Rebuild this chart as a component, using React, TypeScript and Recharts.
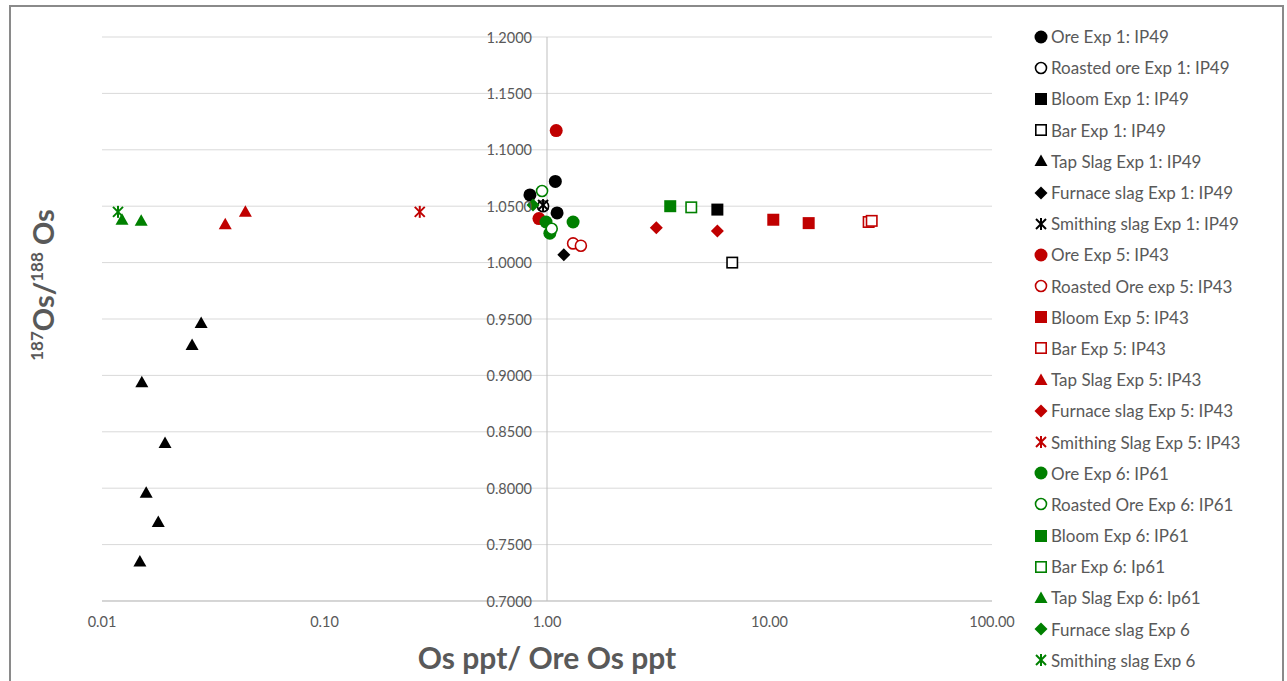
import React from 'react';
import { ScatterChart, Scatter, XAxis, YAxis, CartesianGrid, ReferenceLine, Legend } from 'recharts';

// values: [Os ppt / ore Os ppt, 187Os/188Os]
const oreExp1 = [[1.09, 1.072], [0.838, 1.06], [1.11, 1.044]];
const roastedExp1 = [[0.96, 1.05]];
const bloomExp1 = [[5.83, 1.047]];
const barExp1 = [[6.8, 1.0]];
const tapSlagExp1 = [
  [0.0279, 0.9465], [0.0254, 0.927], [0.0151, 0.894], [0.0192, 0.84],
  [0.0158, 0.796], [0.0179, 0.77], [0.0148, 0.735],
];
const furnaceExp1 = [[1.19, 1.007]];
const smithingExp1 = [[0.96, 1.051]];

const oreExp5 = [[1.1, 1.117], [0.92, 1.039]];
const roastedExp5 = [[1.31, 1.017], [1.42, 1.015]];
const bloomExp5 = [[10.4, 1.038], [15.0, 1.035]];
const barExp5 = [[27.9, 1.036], [28.8, 1.037]];
const tapSlagExp5 = [[0.0358, 1.034], [0.0441, 1.045]];
const furnaceExp5 = [[3.1, 1.031], [5.83, 1.028]];
const smithingExp5 = [[0.268, 1.045]];

const oreExp6 = [[0.99, 1.036], [1.31, 1.036], [1.03, 1.026]];
const roastedExp6 = [[0.95, 1.0635], [1.05, 1.03]];
const bloomExp6 = [[3.58, 1.05]];
const barExp6 = [[4.45, 1.049]];
const tapSlagExp6 = [[0.0123, 1.038], [0.015, 1.037]];
const furnaceExp6 = [[0.865, 1.051]];
const smithingExp6 = [[0.0118, 1.045]];

const X_TICKS = [0.01, 0.1, 1, 10, 100];
const Y_TICKS = [0.7, 0.75, 0.8, 0.85, 0.9, 0.95, 1.0, 1.05, 1.1, 1.15, 1.2];

const BLACK = '#000000';
const RED = '#c00000';
const GREEN = '#008000';
const TEXT = '#595959';
const FONT = 'Lato, "Open Sans", sans-serif';

type Kind = 'circle' | 'ocircle' | 'square' | 'osquare' | 'triangle' | 'diamond' | 'star';

const SERIES: { name: string; data: number[][]; color: string; kind: Kind }[] = [
  { name: 'Ore Exp 1: IP49', data: oreExp1, color: BLACK, kind: 'circle' },
  { name: 'Roasted ore Exp 1: IP49', data: roastedExp1, color: BLACK, kind: 'ocircle' },
  { name: 'Bloom Exp 1: IP49', data: bloomExp1, color: BLACK, kind: 'square' },
  { name: 'Bar Exp 1: IP49', data: barExp1, color: BLACK, kind: 'osquare' },
  { name: 'Tap Slag Exp 1: IP49', data: tapSlagExp1, color: BLACK, kind: 'triangle' },
  { name: 'Furnace slag Exp 1: IP49', data: furnaceExp1, color: BLACK, kind: 'diamond' },
  { name: 'Smithing slag Exp 1: IP49', data: smithingExp1, color: BLACK, kind: 'star' },
  { name: 'Ore Exp 5: IP43', data: oreExp5, color: RED, kind: 'circle' },
  { name: 'Roasted Ore exp 5: IP43', data: roastedExp5, color: RED, kind: 'ocircle' },
  { name: 'Bloom Exp 5: IP43', data: bloomExp5, color: RED, kind: 'square' },
  { name: 'Bar Exp 5: IP43', data: barExp5, color: RED, kind: 'osquare' },
  { name: 'Tap Slag Exp 5: IP43', data: tapSlagExp5, color: RED, kind: 'triangle' },
  { name: 'Furnace slag Exp 5: IP43', data: furnaceExp5, color: RED, kind: 'diamond' },
  { name: 'Smithing Slag Exp 5: IP43', data: smithingExp5, color: RED, kind: 'star' },
  { name: 'Ore Exp 6: IP61', data: oreExp6, color: GREEN, kind: 'circle' },
  { name: 'Roasted Ore Exp 6: IP61', data: roastedExp6, color: GREEN, kind: 'ocircle' },
  { name: 'Bloom Exp 6: IP61', data: bloomExp6, color: GREEN, kind: 'square' },
  { name: 'Bar Exp 6: Ip61', data: barExp6, color: GREEN, kind: 'osquare' },
  { name: 'Tap Slag Exp 6: Ip61', data: tapSlagExp6, color: GREEN, kind: 'triangle' },
  { name: 'Furnace slag Exp 6', data: furnaceExp6, color: GREEN, kind: 'diamond' },
  { name: 'Smithing slag Exp 6', data: smithingExp6, color: GREEN, kind: 'star' },
];

// layout
const W = 1287;
const H = 681;
const PLOT_LEFT = 102;
const PLOT_RIGHT = 992;
const PLOT_TOP = 37;
const PLOT_BOTTOM = 601;
const X_AXIS_H = 30;
const AXIS_X = PLOT_LEFT + (PLOT_RIGHT - PLOT_LEFT) / 2; // x = 1 sits mid-way on 0.01..100 log

const Marker = ({ cx, cy, kind, color }: { cx: number; cy: number; kind: Kind; color: string }) => {
  switch (kind) {
    case 'circle':
      return <circle cx={cx} cy={cy} r={6.5} fill={color} />;
    case 'ocircle':
      return <circle cx={cx} cy={cy} r={5.5} fill="#fff" stroke={color} strokeWidth={1.6} />;
    case 'square':
      return <rect x={cx - 6} y={cy - 6} width={12} height={12} fill={color} />;
    case 'osquare':
      return <rect x={cx - 5.2} y={cy - 5.2} width={10.4} height={10.4} fill="#fff" stroke={color} strokeWidth={1.6} />;
    case 'triangle':
      return <path d={`M${cx},${cy - 6.5} L${cx + 6.5},${cy + 5} L${cx - 6.5},${cy + 5} Z`} fill={color} />;
    case 'diamond':
      return <path d={`M${cx},${cy - 6.5} L${cx + 6.5},${cy} L${cx},${cy + 6.5} L${cx - 6.5},${cy} Z`} fill={color} />;
    case 'star':
      return (
        <g stroke={color} strokeWidth={2}>
          <line x1={cx} y1={cy - 6} x2={cx} y2={cy + 6} />
          <line x1={cx - 5} y1={cy - 5} x2={cx + 5} y2={cy + 5} />
          <line x1={cx - 5} y1={cy + 5} x2={cx + 5} y2={cy - 5} />
        </g>
      );
  }
  return null;
};

const YTick = (props: any) => {
  const { y, payload } = props;
  return (
    <text x={AXIS_X - 15} y={y} textAnchor="end" dominantBaseline="central" fill={TEXT} fontSize={14.5} fontFamily={FONT}>
      {Number(payload.value).toFixed(4)}
    </text>
  );
};

const renderLegend = () => (
  <div style={{ fontFamily: FONT, fontSize: 17, color: TEXT }}>
    {SERIES.map((s) => (
      <div key={s.name} style={{ height: 31.2, display: 'flex', alignItems: 'center', whiteSpace: 'nowrap' }}>
        <svg width={16} height={16}>
          <Marker cx={8} cy={8} kind={s.kind} color={s.color} />
        </svg>
        <span style={{ marginLeft: 2 }}>{s.name}</span>
      </div>
    ))}
  </div>
);

export default function App() {
  return (
    <div style={{ position: 'absolute', left: 0, top: 0, width: W, height: H, background: '#fff', overflow: 'hidden' }}>
      <div
        style={{
          position: 'absolute', left: 9, top: 5, width: 1275, height: 720,
          border: '2px solid #8a8a8a', boxSizing: 'border-box',
        }}
      />
      <div style={{ position: 'absolute', left: 0, top: 0 }}>
        <ScatterChart
          width={W}
          height={H}
          margin={{ top: PLOT_TOP, left: PLOT_LEFT - 1, right: W - PLOT_RIGHT, bottom: H - PLOT_BOTTOM - X_AXIS_H }}
        >
          <CartesianGrid vertical={false} stroke="#d9d9d9" />
          <XAxis
            dataKey="x"
            type="number"
            scale="log"
            domain={[0.01, 100]}
            ticks={X_TICKS}
            allowDataOverflow
            tickFormatter={(v: number) => v.toFixed(2)}
            axisLine={{ stroke: '#bfbfbf' }}
            tickLine={false}
            tickMargin={10}
            height={X_AXIS_H}
            tick={{ fill: TEXT, fontSize: 14.5, fontFamily: FONT }}
          />
          <YAxis
            dataKey="y"
            type="number"
            domain={[0.7, 1.2]}
            ticks={Y_TICKS}
            allowDataOverflow
            axisLine={false}
            tickLine={false}
            width={1}
            tick={<YTick />}
          />
          <ReferenceLine x={1} stroke="#bfbfbf" />
          <Legend
            layout="vertical"
            align="center"
            verticalAlign="middle"
            content={renderLegend}
            wrapperStyle={{ left: 1033, top: 21, width: 250 }}
          />
          {SERIES.map((s) => (
            <Scatter
              key={s.name}
              name={s.name}
              data={s.data.map(([x, y]) => ({ x, y }))}
              isAnimationActive={false}
              shape={(p: any) => <Marker cx={p.cx} cy={p.cy} kind={s.kind} color={s.color} />}
            />
          ))}
        </ScatterChart>
      </div>
      <div
        style={{
          position: 'absolute', left: 42, top: 285, transform: 'translate(-50%, -50%) rotate(-90deg)',
          fontFamily: FONT, fontWeight: 700, fontSize: 29, color: TEXT, whiteSpace: 'nowrap',
        }}
      >
        <sup style={{ fontSize: 17 }}>187</sup>Os/<sup style={{ fontSize: 17 }}>188</sup> Os
      </div>
      <div
        style={{
          position: 'absolute', left: AXIS_X, top: 657, transform: 'translate(-50%, -50%)',
          fontFamily: FONT, fontWeight: 700, fontSize: 30, color: TEXT, whiteSpace: 'nowrap',
        }}
      >
        Os ppt/ Ore Os ppt
      </div>
    </div>
  );
}
